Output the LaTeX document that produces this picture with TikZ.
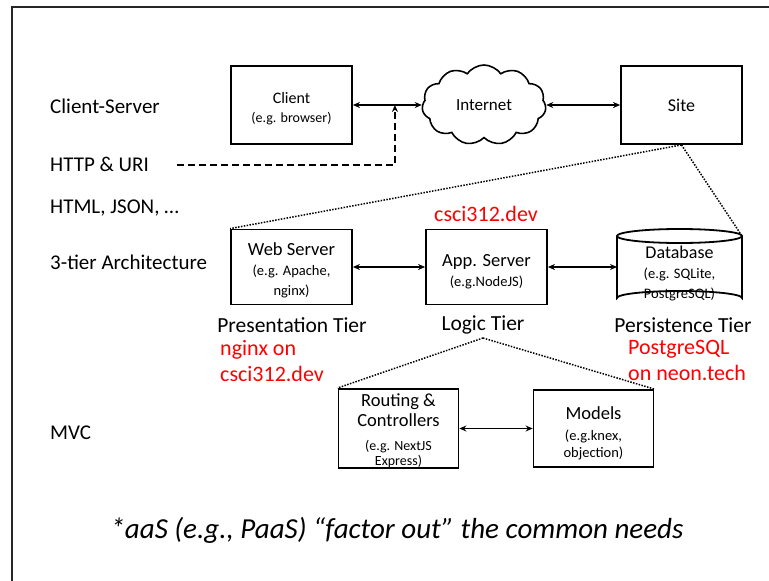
\documentclass[tikz,border=0pt]{standalone}
\usepackage{fontspec}
\setmainfont{Carlito}
\usetikzlibrary{shapes.symbols,arrows.meta,calc}
\newcommand\ttl[1]{{\fontsize{18.5}{20}\selectfont #1}}
\newcommand\stl[1]{{\fontsize{14.5}{18}\selectfont #1}}
\newcommand\lift[1]{\rule{0pt}{#1pt}}
\begin{document}
\begin{tikzpicture}[x=1pt,y=-1pt,
  box/.style={draw,line width=1.8pt,minimum width=121pt,align=center,inner sep=0pt,font=\fontsize{14.5}{20}\selectfont},
  lab/.style={font=\fontsize{21}{24}\selectfont,anchor=west,inner sep=0pt},
  tierlab/.style={font=\fontsize{21.5}{24}\selectfont},
  red/.style={text=red,font=\fontsize{22}{26}\selectfont,align=left,anchor=west,inner sep=0pt},
  conn/.style={line width=1.7pt,{Stealth[length=7pt,width=6pt]}-{Stealth[length=7pt,width=6pt]}},
  dots/.style={line width=1.5pt,dash pattern=on 1.5pt off 1.4pt},
  frame/.style={line width=1.2pt,black!85}]
\useasboundingbox (0,0) rectangle (769,581);
\fill[white] (0,0) rectangle (769,581);
\draw[frame] (769,7) -- (12,7) -- (12,581);

% left labels
\node[lab] (cs) at (50,106) {Client-Server};
\node[lab] (http) at (50,164) {HTTP \& URI};
\node[lab] (html) at (50,208) {HTML, JSON, …};
\node[lab] (tier) at (50,262) {3-tier Architecture};
\node[lab] (mvc) at (50,433) {MVC};

% row 1
\node[box,minimum height=78pt,font=\fontsize{14}{19}\selectfont] (client) at (291.5,105) {{\fontsize{16}{19}\selectfont\lift{18}Client}\\ {\fontsize{14}{18}\selectfont (e.g. browser)}};
\node[cloud,draw,line width=1.6pt,cloud puffs=11,cloud puff arc=110,aspect=1.5,minimum width=124pt,minimum height=80pt,inner sep=0pt,font=\fontsize{17}{19}\selectfont] (cloud) at (484,105) {Internet};
\node[box,minimum height=78pt,font=\fontsize{18}{19}\selectfont] (site) at (681.5,105) {Site};
\draw[conn] (client.east) -- (cloud.west);
\draw[conn] (cloud.east) -- (site.west);
\coordinate (tap) at ($(client.east)!0.61!(cloud.west)$);
\coordinate (hs) at (177,165);
\draw[line width=2.2pt,dash pattern=on 7pt off 4pt,-{Stealth[length=7pt,width=6pt]}] (hs) -| (tap);

% row 2
\node[red,anchor=center] (dev) at (486,214) {csci312.dev};
\node[box,minimum height=75pt] (web) at (291.5,267) {\ttl{\lift{20}Web Server}\\ \stl{(e.g. Apache,}\\ \stl{nginx)}};
\node[box,minimum height=75pt] (app) at (486.5,267) {\ttl{\lift{21}App. Server}\\ \stl{(e.g.NodeJS)}};
% database cylinder
\node[minimum width=125pt,minimum height=76pt,inner sep=0pt,align=center,font=\fontsize{14.5}{20}\selectfont] (db) at (679.5,273) {{\fontsize{18}{20}\selectfont Database}\\ \stl{(e.g. SQLite,}\\ \stl{PostgreSQL)}};
\coordinate (dbtr) at (742,236);
\draw[line width=1.8pt] (679.5,236) ellipse [x radius=62.5, y radius=7];
\draw[line width=1.8pt] (617,236) -- (617,298) arc[start angle=180,end angle=360,x radius=62.5,y radius=7] -- (742,236);
\coordinate (dbw) at (617,267);
\draw[conn] (web.east) -- (app.west);
\draw[conn] (app.east) -- (dbw);

\node[tierlab] (pt) at (292,325) {Presentation Tier};
\node[tierlab] (lt) at (483,325) {Logic Tier};
\node[tierlab] (pst) at (683,325) {Persistence Tier};
\node[red] (ng) at (220,361) {nginx on\\csci312.dev};
\node[red] (pg) at (628,360) {PostgreSQL\\on neon.tech};

\draw[dots] (site.south) -- (web.north west);
\draw[dots] (site.south) -- (dbtr);

% row 3
\coordinate (apex) at (483,338);
\node[box,minimum width=120pt,minimum height=77pt] (rc) at (398.5,428.5) {\ttl{\lift{18}Routing \&}\\[0pt] \ttl{Controllers}\\[4pt] {\fontsize{14}{16}\selectfont (e.g. NextJS}\\[-5pt] {\fontsize{14}{16}\selectfont Express)}};
\node[box,minimum width=120pt,minimum height=77pt] (mod) at (593.5,428.5) {\ttl{\lift{22}Models}\\[1pt] \stl{(e.g.knex,}\\[-3pt] \stl{objection)}};
\draw[conn] (rc.east) -- (mod.west);
\draw[dots] (apex) -- (rc.north west);
\draw[dots] (apex) -- (mod.north east);

\node[font=\fontsize{29}{32}\selectfont\itshape] (aas) at (397,530) {*aaS (e.g., PaaS) “factor out” the common needs};
\end{tikzpicture}
\end{document}
